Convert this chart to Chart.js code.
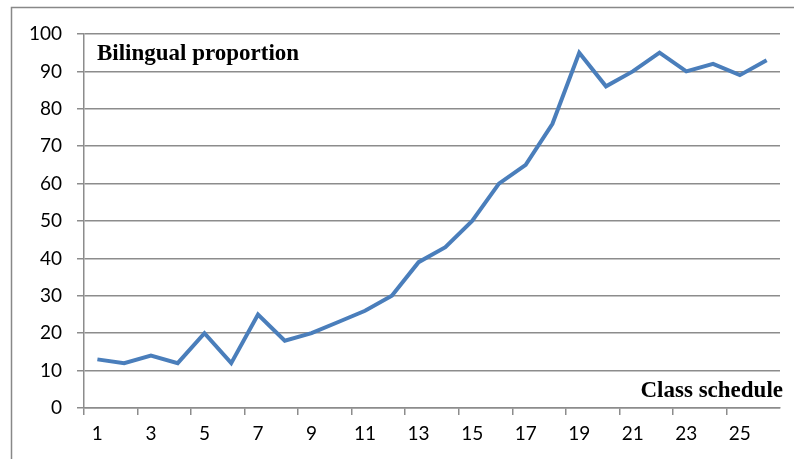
<!DOCTYPE html>
<html>
<head>
<meta charset="utf-8">
<script src="https://cdn.jsdelivr.net/npm/chart.js@4.4.0/dist/chart.umd.min.js"></script>
<style>
  html, body { margin: 0; padding: 0; background: #fff; }
  #wrap { width: 794px; height: 459px; }
</style>
</head>
<body>
<div id="wrap"><canvas id="lineChart" width="794" height="459"></canvas></div>
<script>
// class number on x, bilingual proportion (%) on y
const classes = ['1', '2', '3', '4', '5', '6', '7', '8', '9', '10', '11', '12', '13',
  '14', '15', '16', '17', '18', '19', '20', '21', '22', '23', '24', '25', '26']
const proportion = [13, 12, 14, 12, 20, 12, 25, 18, 20, 23, 26, 30, 39,
  43, 50, 60, 65, 76, 95, 86, 90, 95, 90, 92, 89, 93]
const yTicks = [0, 10, 20, 30, 40, 50, 60, 70, 80, 90, 100]

const gridGray = '#8c8c8c'

// frame and the two bold captions
const decorations = {
  id: 'decorations',
  beforeDraw(chart) {
    const ctx = chart.ctx
    ctx.save()
    ctx.fillStyle = '#fff'
    ctx.fillRect(0, 0, chart.width, chart.height)
    ctx.strokeStyle = '#888'
    ctx.lineWidth = 1.5
    ctx.beginPath()
    ctx.moveTo(11.5, chart.height + 5)
    ctx.lineTo(11.5, 7.5)
    ctx.lineTo(chart.width + 5, 7.5)
    ctx.stroke()
    ctx.restore()
  },
  afterDraw(chart) {
    const ctx = chart.ctx
    const area = chart.chartArea
    ctx.save()
    ctx.fillStyle = '#000'
    ctx.font = 'bold 23px "Liberation Serif", "Times New Roman", serif'
    ctx.textBaseline = 'alphabetic'
    ctx.textAlign = 'left'
    ctx.fillText('Bilingual proportion', area.left + 13, 60)
    ctx.textAlign = 'right'
    ctx.fillText('Class schedule', area.right + 3, 397)
    ctx.restore()
  }
}

const lineCtx = document.getElementById('lineChart')
window.myLine = new Chart(lineCtx, {
  type: 'line',
  data: {
    labels: classes,
    datasets: [
      {
        data: proportion,
        borderColor: '#4a7ebb',
        borderWidth: 4,
        pointRadius: 0,
        tension: 0,
        fill: false,
      },
    ],
  },
  options: {
    responsive: false,
    animation: false,
    layout: { padding: { left: 0, top: 34, right: 14, bottom: 0 } },
    plugins: {
      legend: { display: false },
      tooltip: { enabled: false },
    },
    scales: {
      x: {
        offset: true,
        grid: {
          offset: true,
          drawOnChartArea: false,
          tickLength: 7,
          lineWidth: 1.5,
          tickColor: (c) => (c.index % 2 === 0 ? gridGray : 'rgba(0,0,0,0)'),
        },
        border: { color: gridGray, width: 1.5 },
        ticks: {
          autoSkip: false,
          maxRotation: 0,
          padding: 7,
          color: '#000',
          font: { family: 'Lato, "Open Sans", sans-serif', size: 19 },
          callback: (v, i) => (i % 2 === 0 ? classes[i] : ''),
        },
        afterFit: (scale) => { scale.height = 51 },
      },
      y: {
        min: 0,
        max: 100,
        afterBuildTicks: (scale) => { scale.ticks = yTicks.map((v) => ({ value: v })) },
        grid: { color: gridGray, lineWidth: 1.5, tickLength: 7 },
        border: { color: gridGray, width: 1.5 },
        ticks: {
          padding: 15,
          color: '#000',
          font: { family: 'Lato, "Open Sans", sans-serif', size: 19 },
        },
        afterFit: (scale) => { scale.width = 84 },
      },
    },
  },
  plugins: [decorations],
})
</script>
</body>
</html>
